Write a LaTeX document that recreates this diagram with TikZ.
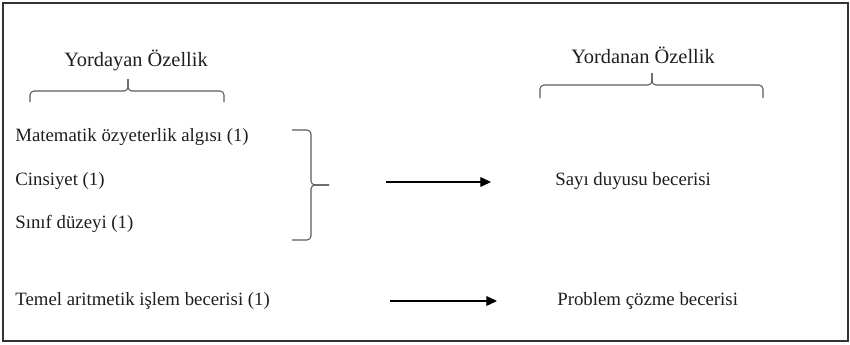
\documentclass[tikz,border=0pt]{standalone}
\usepackage{fontspec}
\setmainfont{Liberation Serif}
\usetikzlibrary{arrows.meta}

\definecolor{cerceve}{HTML}{333333}
\definecolor{kumegri}{HTML}{5A5A5A}
\definecolor{yazi}{HTML}{1E1E1E}

\tikzset{
  baslik/.style={inner sep=0pt,text=yazi,font=\fontsize{11.6}{14}\selectfont},
  madde/.style={inner sep=0pt,anchor=west,text=yazi,font=\fontsize{10.7}{13}\selectfont},
  kume/.style={draw=kumegri,line width=0.6pt,rounded corners=0.08cm},
  ok/.style={draw=black,line width=0.6pt,-{Triangle[length=6pt,width=5.5pt]}}
}

\begin{document}
\begin{tikzpicture}
  [x=0.02cm,y=-0.02cm]
  \useasboundingbox (0,0) rectangle (850,345);
  \draw[cerceve,line width=0.7pt] (3,3) rectangle (848,341);

  % basliklar
  \node[baslik] (yordayan) at (136,60) {Yordayan Özellik};
  \node[baslik] (yordanan) at (643,55) {Yordanan Özellik};

  % ust kume parantezleri
  \draw[kume] (30,102) -- (30,91) -- (128,91) -- (128,79);
  \draw[kume] (224,102) -- (224,91) -- (128,91) -- (128,79);
  \draw[kume] (540,98) -- (540,85) -- (652,85) -- (652,73);
  \draw[kume] (763,98) -- (763,85) -- (652,85) -- (652,73);

  % yordayan degiskenler
  \node[madde] (mat) at (15,137) {Matematik özyeterlik algısı (1)};
  \node[madde] (cins) at (15,181) {Cinsiyet (1)};
  \node[madde] (sinif) at (15,224) {Sınıf düzeyi (1)};
  \node[madde] (temel) at (15,301) {Temel aritmetik işlem becerisi (1)};

  % yordanan degiskenler
  \node[madde] (sayi) at (555,181) {Sayı duyusu becerisi};
  \node[madde] (prob) at (557,301) {Problem çözme becerisi};

  % sag kume parantezi
  \draw[kume] (292,130) -- (311,130) -- (311,185) -- (329,185);
  \draw[kume] (292,240) -- (311,240) -- (311,185) -- (329,185);

  \coordinate (ok1a) at (386,182);
  \coordinate (ok1b) at (491,182);
  \coordinate (ok2a) at (390,301);
  \coordinate (ok2b) at (497,301);

  \foreach \from/\to in {ok1a/ok1b,ok2a/ok2b}
    \draw[ok] (\from) -- (\to);
\end{tikzpicture}
\end{document}
